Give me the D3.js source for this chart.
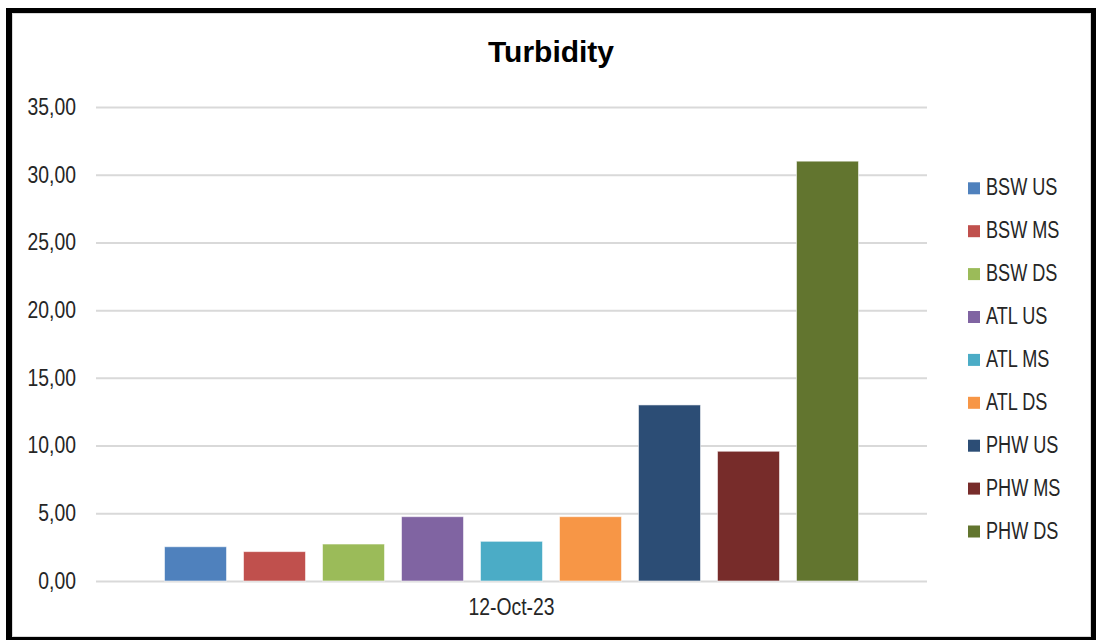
<!DOCTYPE html>
<html>
<head>
<meta charset="utf-8">
<script src="https://cdn.jsdelivr.net/npm/d3@7"></script>
<style>
  html, body { margin: 0; padding: 0; background: #fff; }
  svg { display: block; }
</style>
</head>
<body>
<svg id="chart" width="1098" height="640"></svg>
<script>
// Turbidity readings per sampling site
const categories = ["12-Oct-23"];
const seriesNames = ["BSW US", "BSW MS", "BSW DS", "ATL US", "ATL MS", "ATL DS", "PHW US", "PHW MS", "PHW DS"];
const seriesValues = [2.53, 2.17, 2.73, 4.75, 2.93, 4.75, 13.0, 9.58, 31.0];
const seriesColors = ["#4F81BD", "#C0504D", "#9BBB59", "#8064A2", "#4BACC6", "#F79646", "#2C4D75", "#772C2A", "#62752F"];
const yTicks = [0, 5, 10, 15, 20, 25, 30, 35];

const svg = d3.select("#chart");
const FONT = "'Liberation Sans', Arial, sans-serif";

// squeeze a text horizontally around its anchor point (narrow face look)
function condense(sel, k = 0.79) {
  sel.each(function () {
    const t = d3.select(this);
    const x = +t.attr("x") || 0, yv = +t.attr("y") || 0;
    t.attr("x", 0).attr("y", 0).attr("transform", `translate(${x},${yv}) scale(${k},1)`);
  });
}

// frame
svg.append("rect").attr("x", 6).attr("y", 8).attr("width", 1090).attr("height", 640).attr("fill", "#000");
svg.append("rect").attr("x", 12).attr("y", 13).attr("width", 1079).attr("height", 624).attr("fill", "#fff");
svg.append("rect").attr("x", 12.5).attr("y", 13.5).attr("width", 1078).attr("height", 623)
  .attr("fill", "none").attr("stroke", "#d9d9d9").attr("stroke-width", 1);

const plot = { left: 96, right: 927, top: 107, bottom: 581 };

const comma = d3.formatLocale({ decimal: ",", thousands: ".", grouping: [3], currency: ["", ""] }).format(".2f");

const y = d3.scaleLinear().domain([0, 35]).range([plot.bottom, plot.top]);
const x0 = d3.scaleBand().domain(categories).range([plot.left, plot.right]).paddingOuter(0.0844).paddingInner(0);
const x1 = d3.scaleBand().domain(seriesNames).range([0, x0.bandwidth()]).paddingInner(0.215).paddingOuter(0.1075);

// gridlines
const grid = svg.append("g").attr("transform", `translate(${plot.left},0)`)
  .call(d3.axisLeft(y).tickValues(yTicks).tickSize(-(plot.right - plot.left)).tickFormat(""));
grid.select(".domain").remove();
grid.selectAll("line").attr("stroke", "#d9d9d9").attr("stroke-width", 2);

// y axis labels
const yAxis = svg.append("g").attr("transform", `translate(${plot.left},0)`)
  .call(d3.axisLeft(y).tickValues(yTicks).tickSize(0).tickPadding(20).tickFormat(comma));
yAxis.select(".domain").remove();
yAxis.selectAll("text").attr("font-size", 24.5).attr("fill", "#262626")
  .attr("dy", "0.3em").style("font-family", FONT).call(condense);

// bars
const group = svg.append("g").selectAll("g").data(categories).join("g")
  .attr("transform", d => `translate(${x0(d)},0)`);
group.selectAll("rect").data(seriesNames.map((s, i) => ({ s, v: seriesValues[i], c: seriesColors[i] })))
  .join("rect")
  .attr("x", d => x1(d.s))
  .attr("y", d => y(d.v))
  .attr("width", x1.bandwidth())
  .attr("height", d => y(0) - y(d.v))
  .attr("fill", d => d.c)
  .attr("stroke", "rgba(255,255,255,0.55)")
  .attr("stroke-width", 1);

// x axis label
const xAxis = svg.append("g").attr("transform", `translate(0,${plot.bottom})`)
  .call(d3.axisBottom(x0).tickSize(0).tickPadding(17));
xAxis.select(".domain").remove();
xAxis.selectAll("text").attr("font-size", 24.5).attr("fill", "#262626")
  .style("font-family", FONT).call(condense);

// title
svg.append("text").attr("x", 551).attr("y", 62).attr("text-anchor", "middle")
  .attr("font-family", FONT).attr("font-weight", "bold")
  .attr("font-size", 30).attr("fill", "#000").text("Turbidity");

// legend
const legend = svg.append("g").attr("transform", "translate(968,0)");
const rows = legend.selectAll("g").data(seriesNames).join("g")
  .attr("transform", (d, i) => `translate(0,${187.3 + i * 42.9})`);
rows.append("rect").attr("x", 0).attr("y", -5).attr("width", 12).attr("height", 12)
  .attr("fill", (d, i) => seriesColors[i]);
rows.append("text").attr("x", 18).attr("y", 8).attr("font-size", 23.5).attr("fill", "#262626")
  .style("font-family", FONT)
  .text(d => d)
  .call(condense, 0.77);
</script>
</body>
</html>
